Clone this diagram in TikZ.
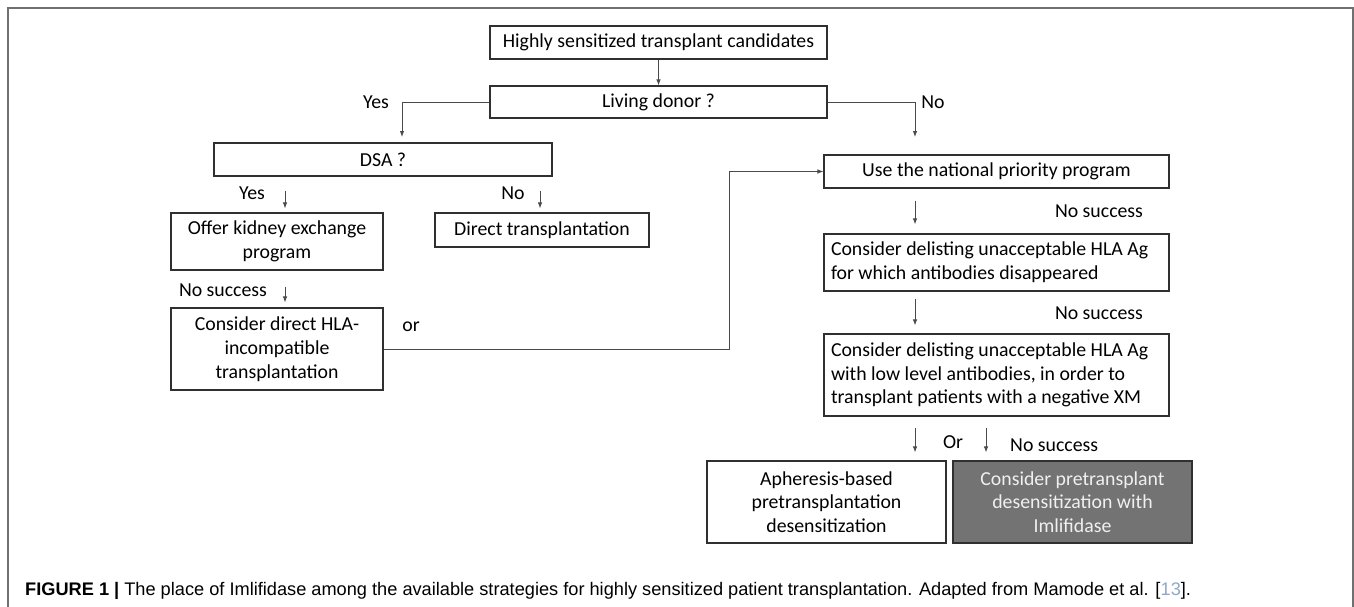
\documentclass[tikz,border=0pt]{standalone}
\usepackage{fontspec}
\setmainfont{Carlito}
\newfontfamily\capfont{Liberation Sans}
\usetikzlibrary{arrows.meta,calc}
\definecolor{boxline}{HTML}{303030}
\definecolor{conn}{HTML}{4A4A4A}
\definecolor{imlfill}{HTML}{737373}
\definecolor{imltext}{HTML}{F0F0F0}
\definecolor{framecol}{HTML}{707070}
\definecolor{refblue}{HTML}{8FA8C8}
\begin{document}
\begin{tikzpicture}[x=1pt,y=-1pt,
  box/.style={draw=boxline, line width=1.1pt, inner sep=0pt, align=center, font=\fontsize{19.8}{23.8}\selectfont},
  lbl/.style={font=\fontsize{19.8}{23.8}\selectfont, inner sep=0pt},
  arr/.style={draw=conn, line width=0.9pt, -{Latex[length=6pt,width=4.5pt]}},
]
\useasboundingbox (0,0) rectangle (1354,606);
\draw[framecol, line width=1.4pt] (8,612) -- (8,8) -- (1353,8) -- (1353,612);

% boxes
\node[box, minimum width=337pt, minimum height=33pt] (hsc) at (658.5,42.5) {Highly sensitized transplant candidates};
\node[box, minimum width=337pt, minimum height=32pt] (ld) at (658.5,102) {Living donor ?};
\node[box, minimum width=338pt, minimum height=33pt] (dsa) at (383,159.5) {DSA ?};
\node[box, minimum width=212pt, minimum height=57pt] (offer) at (277,241.5) {Offer kidney exchange\\program};
\node[box, minimum width=214pt, minimum height=34pt] (direct) at (542,230) {Direct transplantation};
\node[box, minimum width=212pt, minimum height=82pt] (hla) at (277,349) {Consider direct HLA-\\incompatible\\transplantation};
\node[box, minimum width=345pt, minimum height=33pt] (nat) at (996.5,171.5) {Use the national priority program};
\node[box, minimum width=345pt, minimum height=57pt, text width=331pt, align=flush left] (del1) at (996.5,262.5) {Consider delisting unacceptable HLA~Ag\\for which antibodies disappeared};
\node[box, minimum width=345pt, minimum height=82pt, text width=331pt, align=flush left] (del2) at (996.5,375) {Consider delisting unacceptable HLA~Ag\\with low level antibodies, in order to\\transplant patients with a negative XM};
\node[box, minimum width=239pt, minimum height=82pt] (aph) at (826.5,502) {Apheresis-based\\pretransplantation\\desensitization};
\node[box, fill=imlfill, text=imltext, minimum width=239pt, minimum height=82pt] (iml) at (1072.5,502) {Consider pretransplant\\desensitization with\\Imlifidase};

% column coordinates
\coordinate (xa) at (285,0);
\coordinate (xb) at (540,0);
\coordinate (xc) at (729,0);
\coordinate (xd) at (915,0);
\coordinate (xe) at (986,0);
\coordinate (yesend) at (402,137);
\coordinate (noend) at (915,137);

% connectors
\draw[arr] (hsc.south) -- (ld.north);
\draw[arr] (ld.west) -| (yesend);
\draw[arr] (ld.east) -| (noend);
\draw[arr, shorten <=14pt, shorten >=4pt] (dsa.south -| xa) -- (offer.north -| xa);
\draw[arr, shorten <=14pt, shorten >=4pt] (dsa.south -| xb) -- (direct.north -| xb);
\draw[arr, shorten <=16pt, shorten >=5pt] (offer.south -| xa) -- (hla.north -| xa);
\draw[arr] (hla.east) -- (hla.east -| xc) |- (nat.west);
\draw[arr, shorten <=12pt, shorten >=9pt] (nat.south -| xd) -- (del1.north -| xd);
\draw[arr, shorten <=7pt, shorten >=8pt] (del1.south -| xd) -- (del2.north -| xd);
\draw[arr, shorten <=11pt, shorten >=8pt] (del2.south -| xd) -- (aph.north -| xd);
\draw[arr, shorten <=11pt, shorten >=8pt] (del2.south -| xe) -- (iml.north -| xe);

% labels
\node[lbl] (lyes1) at (376,102) {Yes};
\node[lbl] (lno1) at (933,102) {No};
\node[lbl] (lyes2) at (252,193) {Yes};
\node[lbl] (lno2) at (513,193) {No};
\node[lbl] (lns1) at (223,290) {No success};
\node[lbl] (lor1) at (411,327) {or};
\node[lbl] (lns2) at (1099,211) {No success};
\node[lbl] (lns3) at (1099,313) {No success};
\node[lbl] (lor2) at (953,442) {Or};
\node[lbl, anchor=west] (lns4) at (1010,445) {No success};

% caption
\node[anchor=base west, inner sep=0pt, font=\capfont\fontsize{18.2}{22}\selectfont] (cap) at (25,595) {\textbf{FIGURE 1 |} The place of Imlifidase among the available strategies for highly sensitized patient transplantation. Adapted from Mamode et al. [\textcolor{refblue}{13}].};
\end{tikzpicture}
\end{document}
